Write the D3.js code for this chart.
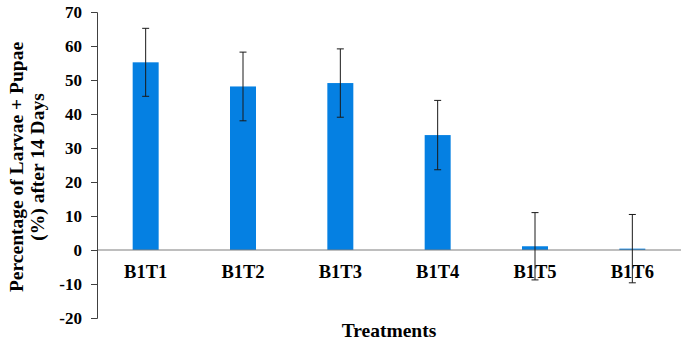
<!DOCTYPE html>
<html><head><meta charset="utf-8">
<script src="https://cdn.jsdelivr.net/npm/d3@7/dist/d3.min.js"></script>
<style>body{margin:0;background:#fff}svg{display:block}text{font-family:"Liberation Serif","Times New Roman",serif;font-weight:bold;fill:#000}</style>
</head><body><svg id="c" width="685" height="344"></svg>
<script>
const categories = ["B1T1","B1T2","B1T3","B1T4","B1T5","B1T6"];
const values = [55.2, 48.1, 49.1, 33.8, 1.1, 0.4];
const errors = [10, 10.1, 10.05, 10.2, 9.9, 10.05];
const yTicks = [-20,-10,0,10,20,30,40,50,60,70];

const svg = d3.select("#c");
const x = d3.scaleBand().domain(categories).range([97, 681]).paddingInner(0.733).paddingOuter(0.3665);
const y = d3.scaleLinear().domain([-20, 70]).range([318, 12]);

// bars
svg.append("g").selectAll("rect").data(categories).join("rect")
  .attr("x", d => x(d)).attr("width", x.bandwidth())
  .attr("y", (d,i) => y(Math.max(0, values[i])))
  .attr("height", (d,i) => Math.abs(y(values[i]) - y(0)))
  .attr("fill", "#0580e2");

// x axis line at zero
svg.append("line").attr("x1", 97).attr("x2", 681).attr("y1", y(0)).attr("y2", y(0))
  .attr("stroke", "#7f7f7f").attr("stroke-width", 1.2);

// y axis
const ya = svg.append("g").attr("transform", "translate(97,0)")
  .attr("font-family", '"Liberation Serif",serif').attr("font-size", 17).attr("font-weight", "bold")
  .call(d3.axisLeft(y).tickValues(yTicks).tickFormat(d => String(d)).tickSize(6).tickSizeOuter(6).tickPadding(9));
ya.select(".domain").attr("stroke", "#404040");
ya.selectAll(".tick line").attr("stroke", "#404040");
ya.selectAll("text").style("font-size", "17px").style("font-family", '"Liberation Serif",serif').style("font-weight","bold").attr("fill","#000");

// error bars
const eb = svg.append("g").attr("stroke", "#1a1a1a").attr("stroke-width", 1);
categories.forEach((c, i) => {
  const cx = x(c) + x.bandwidth() / 2;
  const top = y(values[i] + errors[i]), bot = y(values[i] - errors[i]);
  eb.append("line").attr("x1", cx).attr("x2", cx).attr("y1", top).attr("y2", bot);
  eb.append("line").attr("x1", cx - 3.5).attr("x2", cx + 3.5).attr("y1", top).attr("y2", top);
  eb.append("line").attr("x1", cx - 3.5).attr("x2", cx + 3.5).attr("y1", bot).attr("y2", bot);
});

// x labels
svg.append("g").selectAll("text").data(categories).join("text")
  .attr("x", d => x(d) + x.bandwidth() / 2).attr("y", 278)
  .attr("text-anchor", "middle").style("font-size", "18.5px").text(d => d);

// axis titles
svg.append("text").attr("x", 389).attr("y", 337).attr("text-anchor", "middle")
  .style("font-size", "19.5px").text("Treatments");
const yt = svg.append("text").attr("transform", "translate(0,167) rotate(-90)").attr("text-anchor", "middle").style("font-size", "19.5px");
yt.append("tspan").attr("x", 0).attr("y", 23).text("Percentage of Larvae + Pupae");
yt.append("tspan").attr("x", 0).attr("y", 44).text("(%) after 14 Days");
</script></body></html>
